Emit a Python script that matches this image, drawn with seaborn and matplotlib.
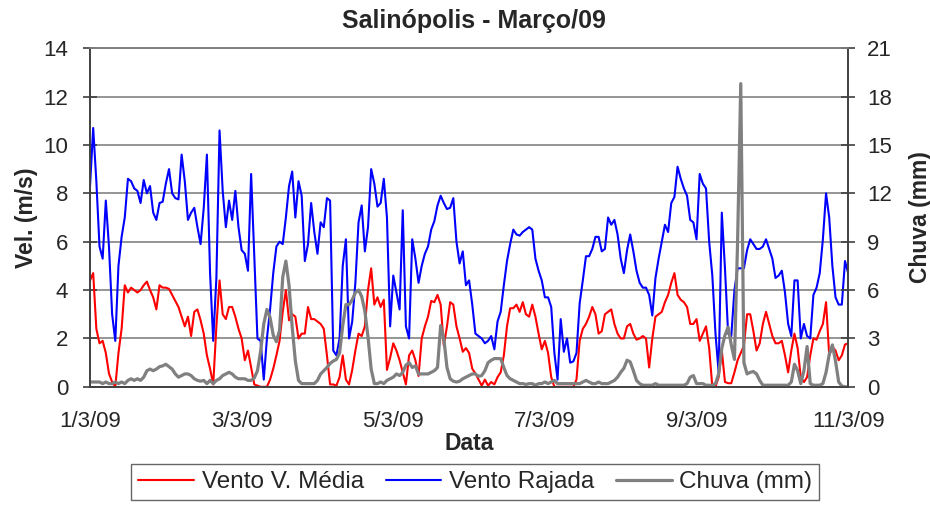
import numpy as np
import pandas as pd
import matplotlib
matplotlib.use("Agg")
import matplotlib.pyplot as plt
import seaborn as sns

# hourly readings, 1/3/09 00h -> 11/3/09 00h (one row per day)
vento_media = [
    4.4, 4.7, 2.4, 1.8, 1.9, 1.4, 0.55, 0.2, 0.0, 1.4, 2.4, 4.2, 3.9, 4.1, 4.0, 3.9, 4.0, 4.2, 4.35, 4.0, 3.7, 3.2, 4.2, 4.1,
    4.1, 4.05, 3.8, 3.55, 3.3, 2.9, 2.5, 2.9, 2.1, 3.1, 3.2, 2.75, 2.2, 1.3, 0.75, 0.1, 2.5, 4.4, 3.0, 2.8, 3.3, 3.3, 2.9, 2.4,
    2.0, 1.1, 1.5, 0.8, 0.1, 0.05, 0.0, 0.0, 0.0, 0.3, 0.75, 1.3, 1.9, 3.1, 4.0, 2.75, 3.0, 2.9, 2.0, 2.2, 2.2, 3.3, 2.8, 2.8,
    2.7, 2.6, 2.4, 1.3, 0.1, 0.1, 0.05, 0.4, 1.3, 0.3, 0.1, 0.7, 1.5, 2.2, 2.1, 2.5, 4.0, 4.9, 3.4, 3.7, 3.3, 3.6, 0.7, 1.2,
    1.8, 1.5, 1.1, 0.6, 0.1, 1.3, 1.5, 1.1, 0.45, 2.0, 2.5, 2.9, 3.55, 3.5, 3.8, 3.4, 1.7, 2.5, 3.5, 3.4, 2.5, 2.0, 1.45, 1.6,
    1.4, 0.75, 0.55, 0.3, 0.05, 0.3, 0.05, 0.2, 0.1, 0.4, 0.6, 1.3, 2.5, 3.25, 3.25, 3.4, 3.1, 3.5, 3.0, 2.9, 3.4, 2.9, 2.2, 1.55,
    1.9, 1.4, 0.4, 0.0, 0.0, 0.0, 0.0, 0.0, 0.0, 0.0, 0.3, 1.9, 2.4, 2.6, 2.9, 3.3, 3.0, 2.2, 2.3, 3.0, 3.1, 3.2, 2.6, 2.2,
    2.0, 2.0, 2.5, 2.6, 2.2, 1.95, 2.0, 2.1, 2.0, 0.8, 2.0, 2.9, 3.0, 3.1, 3.5, 3.8, 4.3, 4.7, 3.8, 3.6, 3.5, 3.3, 2.6, 2.6,
    2.8, 1.9, 2.2, 2.5, 1.6, 0.0, 0.0, 0.4, 1.5, 0.2, 0.15, 0.15, 0.6, 1.1, 1.4, 1.7, 3.0, 3.0, 2.3, 1.5, 1.8, 2.6, 3.1, 2.6,
    2.1, 1.8, 1.8, 1.9, 1.3, 0.6, 1.5, 2.2, 1.6, 0.4, 0.2, 0.4, 1.3, 2.0, 1.95, 2.3, 2.6, 3.5, 1.3, 1.65, 1.5, 1.1, 1.3, 1.75,
    1.8,
]

vento_rajada = [
    8.3, 10.7, 8.5, 5.8, 5.3, 7.7, 5.8, 3.0, 1.9, 5.0, 6.2, 7.0, 8.6, 8.5, 8.2, 8.1, 7.6, 8.55, 8.0, 8.3, 7.2, 6.9, 7.6, 7.65,
    8.4, 9.0, 8.0, 7.8, 7.75, 9.6, 8.5, 6.9, 7.2, 7.4, 6.6, 5.9, 7.4, 9.6, 4.7, 1.9, 4.5, 10.6, 8.1, 6.6, 7.7, 6.9, 8.1, 6.6,
    5.65, 5.5, 4.8, 8.8, 5.4, 2.0, 1.9, 0.3, 2.0, 3.2, 4.7, 5.8, 6.0, 5.9, 7.0, 8.3, 8.9, 7.0, 8.5, 7.9, 5.2, 5.9, 7.6, 6.4,
    5.5, 6.8, 6.6, 7.8, 7.7, 1.5, 1.3, 2.0, 5.0, 6.1, 2.0, 2.7, 4.3, 6.8, 7.5, 5.6, 6.6, 9.0, 8.4, 7.45, 7.6, 8.6, 7.0, 2.5,
    4.6, 3.9, 3.2, 7.3, 2.5, 2.0, 6.1, 5.3, 4.3, 5.0, 5.5, 5.8, 6.5, 6.85, 7.5, 7.9, 7.6, 7.35, 7.4, 7.8, 6.0, 5.1, 5.6, 4.2,
    4.4, 3.4, 2.2, 2.1, 2.0, 1.8, 1.9, 2.1, 1.55, 2.7, 3.1, 4.2, 5.2, 5.9, 6.5, 6.3, 6.25, 6.4, 6.5, 6.6, 6.5, 5.3, 4.8, 4.4,
    3.7, 3.7, 3.3, 1.4, 0.3, 2.8, 1.45, 2.0, 1.0, 1.05, 1.4, 3.45, 4.4, 5.4, 5.4, 5.7, 6.2, 6.2, 5.6, 5.7, 7.0, 6.7, 6.9, 6.3,
    5.3, 4.7, 5.65, 6.3, 5.6, 4.8, 4.3, 4.1, 4.1, 3.8, 2.95, 4.5, 5.3, 6.0, 6.7, 6.4, 7.6, 7.85, 9.1, 8.6, 8.2, 7.9, 6.9, 6.8,
    6.1, 8.8, 8.4, 8.2, 6.0, 4.6, 2.2, 0.6, 7.2, 4.9, 2.2, 2.1, 4.0, 4.9, 4.9, 4.9, 5.65, 6.1, 5.9, 5.7, 5.7, 5.8, 6.1, 5.7,
    5.3, 4.5, 4.6, 4.8, 3.9, 2.6, 2.1, 4.4, 4.4, 2.0, 2.6, 2.1, 2.0, 3.8, 4.1, 4.7, 6.1, 8.0, 7.0, 5.0, 3.7, 3.4, 3.4, 5.2,
    4.7,
]

chuva = [
    0.3, 0.3, 0.3, 0.3, 0.2, 0.3, 0.2, 0.2, 0.3, 0.2, 0.3, 0.2, 0.4, 0.5, 0.4, 0.5, 0.4, 0.6, 1.0, 1.1, 1.0, 1.1, 1.25, 1.3,
    1.4, 1.25, 1.1, 0.8, 0.6, 0.7, 0.8, 0.8, 0.7, 0.5, 0.4, 0.35, 0.4, 0.2, 0.4, 0.2, 0.4, 0.5, 0.7, 0.8, 0.9, 0.8, 0.6, 0.5,
    0.5, 0.5, 0.4, 0.4, 0.55, 1.0, 2.2, 3.9, 4.8, 4.3, 3.2, 2.8, 3.5, 6.8, 7.8, 6.3, 3.7, 1.6, 0.4, 0.2, 0.2, 0.2, 0.2, 0.2,
    0.4, 0.8, 1.0, 1.2, 1.45, 1.6, 1.7, 2.1, 3.8, 5.1, 5.1, 5.4, 5.85, 6.0, 5.6, 4.7, 3.1, 1.1, 0.2, 0.2, 0.3, 0.2, 0.4, 0.5,
    0.6, 0.8, 0.7, 0.9, 1.35, 1.5, 1.2, 1.3, 0.8, 0.8, 0.8, 0.8, 0.9, 1.0, 1.2, 3.8, 3.0, 1.2, 0.5, 0.35, 0.3, 0.35, 0.5, 0.6,
    0.7, 0.8, 0.8, 0.65, 0.7, 1.0, 1.5, 1.65, 1.75, 1.75, 1.75, 1.2, 0.7, 0.5, 0.4, 0.3, 0.2, 0.2, 0.15, 0.2, 0.2, 0.1, 0.2, 0.2,
    0.3, 0.2, 0.3, 0.4, 0.2, 0.2, 0.2, 0.2, 0.2, 0.2, 0.2, 0.2, 0.3, 0.4, 0.3, 0.2, 0.2, 0.3, 0.2, 0.2, 0.2, 0.3, 0.4, 0.6,
    0.9, 1.15, 1.65, 1.55, 1.0, 0.4, 0.2, 0.1, 0.1, 0.1, 0.1, 0.2, 0.1, 0.1, 0.1, 0.1, 0.1, 0.1, 0.1, 0.1, 0.1, 0.2, 0.6, 0.7,
    0.2, 0.2, 0.2, 0.1, 0.1, 0.1, 0.2, 0.8, 2.4, 3.2, 3.7, 2.6, 1.7, 9.0, 18.8, 1.5, 0.8, 0.9, 0.95, 0.8, 0.4, 0.1, 0.1, 0.1,
    0.1, 0.1, 0.1, 0.1, 0.1, 0.1, 0.3, 1.4, 1.0, 0.2, 1.0, 2.5, 0.2, 0.1, 0.1, 0.1, 0.2, 0.9, 2.0, 2.6, 1.6, 0.3, 0.05, 0.0,
    0.0,
]

tick_labels = ["1/3/09", "3/3/09", "5/3/09", "7/3/09", "9/3/09", "11/3/09"]

tempo = pd.date_range("2009-03-01 00:00", periods=len(chuva), freq="h")
df = pd.DataFrame({"tempo": tempo, "media": vento_media,
                   "rajada": vento_rajada, "chuva": chuva})

sns.set_style("white")
plt.rcParams["font.family"] = ["Liberation Sans", "DejaVu Sans"]

fig, ax = plt.subplots(figsize=(9.3, 5.07), dpi=100)
fig.subplots_adjust(left=0.0968, right=0.912, top=0.905, bottom=0.237)
ax2 = ax.twinx()

sns.lineplot(data=df, x="tempo", y="rajada", ax=ax, color="#0000FF", lw=1.5, label="Vento Rajada", legend=False)
sns.lineplot(data=df, x="tempo", y="media", ax=ax, color="#FF0000", lw=1.5, label="Vento V. Média", legend=False)
sns.lineplot(data=df, x="tempo", y="chuva", ax=ax2, color="#808080", lw=2.3, label="Chuva (mm)", legend=False)

ax.set_xlim(tempo[0], tempo[-1])
ax.set_ylim(0, 14)
ax2.set_ylim(0, 21)
ax.set_yticks(range(0, 15, 2))
ax2.set_yticks(range(0, 22, 3))
xt = pd.date_range(tempo[0], tempo[-1], freq="2D")
ax.set_xticks(xt)
ax.set_xticklabels(tick_labels)

ax.yaxis.grid(True, color="#8c8c8c", lw=1.3)
ax.set_axisbelow(True)

for a in (ax, ax2):
    for s in a.spines.values():
        s.set_color("#404040")
        s.set_linewidth(1.2)
    a.spines["top"].set_color("#808080")

ax.tick_params(axis="y", direction="inout", length=10, width=1.2, color="#404040", labelsize=16, pad=10.8)
ax2.tick_params(axis="y", direction="inout", length=10, width=1.2, color="#404040", labelsize=16, pad=8.7)
ax.tick_params(axis="x", direction="out", length=6, width=1.2, color="#404040", labelsize=16, pad=11.5)

ax.set_xlabel("Data", fontsize=16.5, fontweight="bold", labelpad=0)
ax.set_ylabel("Vel. (m/s)", fontsize=16.5, fontweight="bold", labelpad=4)
ax2.set_ylabel("Chuva (mm)", fontsize=16.5, fontweight="bold", labelpad=12, rotation=90)

fig.text(0.51, 0.958, "Salinópolis - Março/09", ha="center", va="center",
         fontsize=18, fontweight="bold")

h1, l1 = ax.get_legend_handles_labels()
h2, l2 = ax2.get_legend_handles_labels()
order = [1, 0]
handles = [h1[i] for i in order] + h2
labels = [l1[i] for i in order] + l2
leg = fig.legend(handles, labels, loc="center", bbox_to_anchor=(0.511, 0.049), ncol=3,
                 fontsize=17.5, frameon=True, fancybox=False, handlelength=2.3,
                 handletextpad=0.3, columnspacing=0.9, borderpad=0.3)
leg.get_frame().set_edgecolor("#404040")
leg.get_frame().set_linewidth(1.0)

fig.savefig("out.png", dpi=100)
